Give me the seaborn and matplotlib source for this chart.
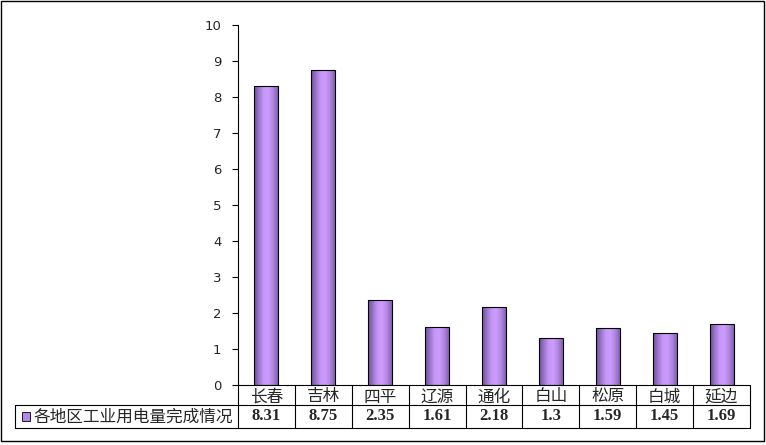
import numpy as np
import pandas as pd
import matplotlib.pyplot as plt
import seaborn as sns
from matplotlib.colors import LinearSegmentedColormap
from matplotlib.lines import Line2D
from matplotlib.patches import Rectangle

# data
regions = ['长春', '吉林', '四平', '辽源', '通化', '白山', '松原', '白城', '延边']
values = [8.31, 8.75, 2.35, 1.61, 2.18, 1.3, 1.59, 1.45, 1.69]
value_labels = ['8.31', '8.75', '2.35', '1.61', '2.18', '1.3', '1.59', '1.45', '1.69']
series_name = '各地区工业用电量完成情况'
yticks = [0, 1, 2, 3, 4, 5, 6, 7, 8, 9, 10]

df = pd.DataFrame({'region': regions, 'value': values})

sns.set_theme(style='white')
plt.rcParams['font.family'] = ['Noto Sans CJK SC', 'DejaVu Sans']

fig = plt.figure(figsize=(7.66, 4.45), dpi=100)
ax = fig.add_axes([238 / 766, 60 / 445, 512 / 766, 360 / 445])

sns.barplot(data=df, x='region', y='value', color='#cc99ff', width=0.42,
            edgecolor='black', linewidth=0.8, ax=ax)

# cylinder-like shading on each bar
cyl = LinearSegmentedColormap.from_list(
    'cyl', ['#6e4f9a', '#9a74cc', '#c596f5', '#cc9cff', '#b286e0', '#8462b0'])
grad = np.linspace(0, 1, 64).reshape(1, -1)
for bar in ax.patches:
    x0, w, h = bar.get_x(), bar.get_width(), bar.get_height()
    im = ax.imshow(grad, cmap=cyl, aspect='auto', extent=[x0, x0 + w, 0, h],
                   zorder=bar.get_zorder() - 0.1)
    im.set_clip_path(bar)
    bar.set_facecolor('none')
ax.set_xlim(-0.5, len(regions) - 0.5)
ax.set_ylim(0, 10)
ax.set_yticks(yticks)
ax.set_yticklabels([str(t) for t in yticks], fontsize=9.5, family='DejaVu Sans')
ax.tick_params(axis='y', direction='out', length=4, width=0.8, color='black', left=True, pad=8)
ax.set_xticks([])
ax.set_xlabel('')
ax.set_ylabel('')
for s in ['top', 'right', 'bottom']:
    ax.spines[s].set_visible(False)
ax.spines['left'].set_color('black')
ax.spines['left'].set_linewidth(0.8)

# data table below the plot
r1 = -20 / 360
r2 = -43 / 360
tr = ax.get_xaxis_transform()
n = len(regions)
ax.add_line(Line2D([-0.5, n - 0.5], [0, 0], transform=tr, color='black', lw=0.8, clip_on=False))
for i in range(n + 1):
    ax.add_line(Line2D([i - 0.5, i - 0.5], [0, r2], transform=tr, color='black', lw=0.8, clip_on=False))
for i, (reg, lab) in enumerate(zip(regions, value_labels)):
    ax.text(i, r1 / 2 - 2 / 360, reg, transform=tr, ha='center', va='center', fontsize=12,
            fontweight='medium', clip_on=False)
    ax.text(i, (r1 + r2) / 2, lab, transform=tr, ha='center', va='center', fontsize=12,
            family='Liberation Serif', fontweight='bold', clip_on=False)

# legend cell spans to the left edge
fig.add_artist(Line2D([15 / 766, 750 / 766], [1 - 405 / 445, 1 - 405 / 445], color='black', lw=0.8))
fig.add_artist(Line2D([15 / 766, 750 / 766], [1 - 428 / 445, 1 - 428 / 445], color='black', lw=0.8))
fig.add_artist(Line2D([15 / 766, 15 / 766], [1 - 405 / 445, 1 - 428 / 445], color='black', lw=0.8))
fig.add_artist(Rectangle((22 / 766, 1 - 421 / 445), 8 / 766, 9 / 445, facecolor='#b488e6',
                         edgecolor='black', lw=0.6))
fig.text(34 / 766, 1 - 417.5 / 445, series_name, ha='left', va='center', fontsize=12,
         fontweight='medium')

# outer chart border
fig.add_artist(Rectangle((1 / 766, 4 / 445), 763 / 766, 440 / 445, facecolor='none',
                         edgecolor='black', lw=1))

fig.savefig('out.png', dpi=100)
